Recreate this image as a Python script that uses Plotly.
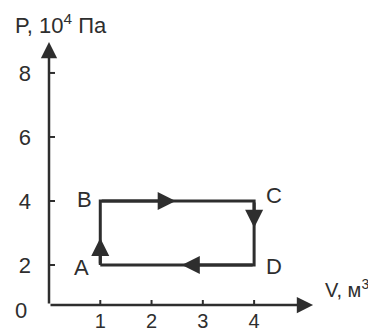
import plotly.graph_objects as go

# cycle points A -> B -> C -> D -> A
names = ["A", "B", "C", "D"]
vol = [1, 1, 4, 4]        # V, m^3
pres = [2, 4, 4, 2]       # P, 10^4 Pa
x_ticks = [1, 2, 3, 4]
y_ticks = [2, 4, 6, 8]

ink = "#2e2e2e"
font = dict(family="Liberation Sans, Arial", size=22, color=ink)

# the axes meet below the 2-tick, as in the textbook sketch
y_low = 0.75

fig = go.Figure()

# the rectangle
fig.add_trace(go.Scatter(x=vol + vol[:1], y=pres + pres[:1], mode="lines",
                         line=dict(color=ink, width=3), hoverinfo="skip"))

# direction arrows, head near middle of each side
mid = [0.42, 0.49, 0.42, 0.47]
for i in range(4):
    x0, y0 = vol[i], pres[i]
    x1, y1 = vol[(i + 1) % 4], pres[(i + 1) % 4]
    f = mid[i]
    fig.add_annotation(x=x0 + (x1 - x0) * f, y=y0 + (y1 - y0) * f,
                       ax=x0, ay=y0, xref="x", yref="y", axref="x", ayref="y",
                       showarrow=True, arrowhead=2, arrowsize=1.2, arrowwidth=3,
                       arrowcolor=ink, text="")

# point letters
xs = [-19, -16, 20, 20]
ys = [-3, 1, 5, -2]
for i in range(4):
    fig.add_annotation(x=vol[i], y=pres[i], text=names[i], showarrow=False,
                       xshift=xs[i], yshift=ys[i], font=font)

# axes with arrows
fig.add_annotation(x=5.15, y=y_low, ax=0, ay=y_low, xref="x", yref="y", axref="x", ayref="y",
                   showarrow=True, arrowhead=2, arrowsize=1.3, arrowwidth=2.5,
                   arrowcolor=ink, text="")
fig.add_annotation(x=0, y=8.97, ax=0, ay=y_low, xref="x", yref="y", axref="x", ayref="y",
                   showarrow=True, arrowhead=2, arrowsize=1.3, arrowwidth=2.5,
                   arrowcolor=ink, text="")

# tick marks crossing the axes
for v in x_ticks:
    fig.add_shape(type="line", x0=v, x1=v, yref="y", ysizemode="pixel", yanchor=y_low,
                  y0=-5, y1=5, line=dict(color=ink, width=2))
for v in y_ticks:
    fig.add_shape(type="line", y0=v, y1=v, xref="x", xsizemode="pixel", xanchor=0,
                  x0=-6, x1=6, line=dict(color=ink, width=2))

# axis titles and origin
fig.add_annotation(x=0, y=8.97, text="P, 10<sup>4</sup> Па", showarrow=False,
                   xanchor="left", yanchor="bottom", xshift=-36, yshift=2, font=font)
fig.add_annotation(x=5.15, y=y_low, text="V, м<sup>3</sup>", showarrow=False,
                   xanchor="left", yanchor="bottom", xshift=10, yshift=2,
                   font=dict(family=font["family"], size=20, color=ink))
fig.add_annotation(x=0, y=y_low, text="0", showarrow=False, xanchor="right",
                   yanchor="middle", xshift=-20, yshift=-5, font=font)

fig.update_xaxes(range=[0, 5.48], showgrid=False, zeroline=False, showline=False,
                 tickvals=x_ticks, ticks="", ticklabelstandoff=2,
                 tickfont=dict(family=font["family"], size=20, color=ink),
                 automargin=False)
fig.update_yaxes(range=[y_low, 9.03], showgrid=False, zeroline=False, showline=False,
                 tickvals=y_ticks, ticks="", ticklabelstandoff=17, tickfont=font,
                 automargin=False)

# the page puts 8px of body margin around the figure
fig.update_layout(width=368, height=326, showlegend=False,
                  margin=dict(l=41, r=46, t=32, b=29, autoexpand=False),
                  paper_bgcolor="white", plot_bgcolor="white")

fig.write_html("out.html")
